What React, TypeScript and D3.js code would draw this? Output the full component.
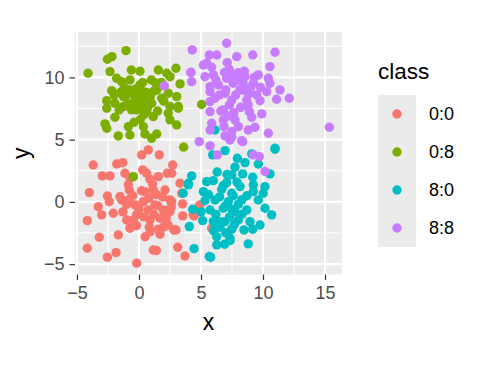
import React, { useRef, useEffect } from 'react';
import * as d3 from 'd3';

// points, one list per class
const class00: [number, number][] = [
  [0.22, 3.78], [0.75, 4.18], [1.64, 3.78], [-3.69, 2.97], [-1.8, 3.05], [-1.31, 3.16],
  [-2.96, 2.09], [-2.34, 2.09], [-1.13, 2.3], [-0.73, 1.9], [0.62, 2.3], [0.89, 1.82],
  [1.56, 2.03], [2.28, 2.3], [-4.0, 0.75], [-2.55, 0.48], [-1.53, 0.43], [-0.78, 0.96],
  [0.48, 0.83], [1.15, 0.96], [2.1, 0.96], [3.31, 1.5], [-2.4, 0.02], [-3.28, -0.38],
  [-1.4, 0.16], [-0.32, -0.24], [0.35, 0.02], [1.29, -0.24], [2.5, 0.16], [-3.01, -1.04],
  [-2.07, -0.91], [-0.99, -1.45], [-0.19, -1.04], [0.75, -0.64], [1.96, -0.64], [2.5, -0.78],
  [-4.17, -1.5], [-0.46, -1.45], [0.89, -1.45], [1.69, -1.31], [0.83, -2.03], [1.56, -2.19],
  [2.36, -1.85], [-0.73, -2.11], [2.98, -2.25], [-3.2, -2.84], [-1.67, -2.65], [-4.17, -3.72],
  [-2.55, -4.44], [-1.85, -4.07], [-0.19, -4.92], [1.15, -3.86], [1.4, -3.9], [3.12, -3.64],
  [3.71, -4.34], [4.38, -1.04], [4.92, -0.24], [0.3, 2.57], [-0.86, 1.37], [2.72, 2.97],
  [3.44, 0.7], [2.64, 0.02], [3.52, -0.16], [4.86, -0.32], [3.52, -1.12], [4.44, -1.12],
  [2.82, -2.25], [5.86, -2.11], [2.64, 2.3],
  [-0.5, 0.5], [0.0, -0.6], [0.8, 0.3], [1.5, -0.3], [1.9, 0.4], [-0.2, -1.9], [0.4, -1.2],
  [1.2, -1.0], [2.2, -1.3], [-1.0, -0.2], [0.2, 0.9], [0.9, -2.4], [1.7, -2.6], [2.6, -0.4],
  [-0.8, 0.2], [1.1, 1.4], [2.0, -2.0], [0.5, -2.8], [-1.3, -0.8], [1.4, 0.6],
];

const class08: [number, number][] = [
  [-4.11, 10.34], [-2.55, 11.46], [-2.18, 11.67], [-1.05, 12.15], [-2.34, 10.47], [-1.8, 9.93],
  [-0.62, 10.6], [0.08, 10.5], [-1.4, 9.66], [-0.73, 9.8], [-2.2, 8.94], [-2.6, 8.14],
  [-2.6, 7.53], [-1.94, 7.93], [-1.26, 8.46], [-0.73, 9.0], [-0.32, 8.46], [0.08, 9.4],
  [0.35, 8.86], [-0.73, 7.79], [-0.19, 7.39], [0.48, 8.06], [1.02, 7.93], [0.62, 7.25],
  [-1.26, 7.66], [-1.94, 6.8], [-2.74, 6.27], [-2.6, 5.92], [-1.67, 5.3], [-0.86, 6.05],
  [-0.73, 5.38], [0.35, 6.05], [0.48, 5.46], [1.02, 5.11], [1.43, 5.46], [1.15, 6.85],
  [1.56, 10.6], [2.23, 10.34], [2.98, 10.74], [2.5, 10.06], [1.37, 9.53], [3.31, 9.48],
  [1.43, 9.0], [2.36, 8.73], [1.83, 8.33], [2.5, 7.66], [3.17, 7.66], [2.36, 7.12],
  [2.5, 6.59], [3.04, 6.18], [3.6, 4.4], [5.05, 7.83], [-0.46, 2.03], [3.04, 8.46],
  [3.17, 7.53],
  [-1.0, 8.6], [-0.5, 8.9], [0.2, 8.2], [-0.2, 9.1], [0.6, 8.8], [-1.5, 8.8], [-0.9, 7.9],
  [0.0, 7.6], [0.9, 8.4], [-0.4, 8.0], [0.3, 9.6], [-1.2, 9.2], [0.7, 7.6], [1.2, 8.9],
  [-0.1, 8.6], [-0.6, 7.4], [0.4, 7.0], [1.0, 9.8], [-2.0, 8.6], [-1.6, 7.4], [0.1, 6.6],
  [-0.4, 6.4], [1.8, 9.6], [2.0, 8.1], [1.5, 7.3],
];

const class80: [number, number][] = [
  [10.97, 4.23], [6.94, 4.12], [5.94, 3.78], [9.09, 3.86], [7.93, 3.51], [8.55, 3.16],
  [9.62, 3.05], [7.74, 2.79], [10.56, 2.25], [4.25, 2.09], [7.48, 2.17], [8.36, 2.25],
  [9.17, 1.98], [5.99, 1.71], [7.07, 1.55], [3.98, 1.37], [8.15, 1.23], [9.22, 1.37],
  [10.16, 1.23], [3.57, 0.7], [5.19, 0.83], [6.67, 1.02], [7.48, 0.7], [9.22, 0.83],
  [10.02, 0.7], [5.32, 0.1], [6.13, 0.16], [7.2, 0.02], [8.28, 0.16], [9.62, 0.16],
  [10.16, -0.51], [10.7, -1.04], [4.33, -0.59], [5.73, -0.64], [6.8, -0.51], [7.74, -0.78],
  [8.69, -0.64], [5.13, -1.5], [5.99, -1.58], [6.94, -1.58], [8.01, -1.45], [8.95, -1.58],
  [9.76, -1.85], [4.06, -1.98], [6.53, -2.03], [7.48, -2.19], [8.47, -2.25], [9.17, -2.19],
  [6.27, -2.79], [7.34, -2.92], [6.27, -3.45], [7.34, -3.11], [8.81, -3.37], [4.44, -3.75],
  [5.78, -4.44], [3.98, 1.5], [5.46, 1.63], [5.67, -4.39], [6.13, 5.78], [10.97, 4.31],
  [6.5, 0.4], [7.0, -0.3], [7.6, 0.5], [6.2, -1.0], [7.3, -1.2], [8.0, -0.2], [6.8, 1.3],
  [7.9, 1.6], [6.0, -2.3], [7.0, -2.5], [8.3, -1.0], [6.6, -1.6], [7.7, -1.8], [5.6, 0.6],
  [8.7, 0.5], [6.3, 2.4], [7.1, 2.2], [5.0, -0.8], [6.9, -3.4], [7.5, -0.6],
];

const class88: [number, number][] = [
  [4.3, 12.21], [7.07, 12.75], [5.67, 11.8], [6.27, 11.8], [7.88, 11.67], [9.17, 11.8],
  [10.97, 12.02], [5.19, 11.0], [5.86, 10.82], [7.12, 11.19], [7.28, 10.66], [10.56, 10.87],
  [4.19, 10.42], [4.25, 9.66], [5.32, 10.06], [8.01, 10.39], [9.62, 10.2], [7.07, 9.93],
  [8.55, 10.06], [10.43, 9.93], [5.73, 9.26], [6.4, 9.4], [7.6, 9.53], [9.22, 9.53],
  [10.56, 9.53], [5.73, 8.86], [6.94, 8.73], [8.15, 9.0], [8.95, 8.73], [10.3, 8.86],
  [11.37, 9.0], [12.12, 8.33], [11.1, 8.25], [6.13, 8.33], [7.48, 8.19], [8.69, 8.19],
  [9.76, 8.14], [5.73, 8.06], [5.73, 7.25], [6.8, 7.39], [7.66, 7.17], [8.9, 7.25],
  [9.9, 7.07], [9.09, 6.8], [6.8, 6.59], [7.74, 6.59], [5.86, 6.32], [6.85, 6.05],
  [8.01, 6.05], [9.35, 6.0], [5.73, 5.78], [7.48, 5.65], [8.81, 5.78], [10.43, 5.52],
  [6.94, 5.3], [8.28, 4.92], [7.48, 5.2], [4.86, 4.84], [5.73, 4.5], [15.35, 6.0],
  [6.32, 3.78], [7.34, 4.98], [8.36, 4.84], [9.22, 3.78], [9.7, 3.64], [10.16, 2.44],
  [2.04, 9.32], [4.17, 10.39], [5.46, 11.14],
  [7.0, 9.0], [7.8, 8.6], [8.4, 9.5], [6.5, 8.6], [7.3, 7.8], [8.2, 7.6], [9.0, 9.2],
  [6.2, 9.8], [7.6, 10.2], [8.6, 8.9], [9.5, 8.6], [6.6, 7.3], [7.2, 6.9], [8.5, 10.5],
  [9.8, 9.2], [6.0, 10.2], [7.9, 9.8], [8.8, 7.8], [9.3, 10.0], [6.9, 10.4],
];

const classNames = ['0:0', '0:8', '8:0', '8:8'];
const classColors = ['#F8766D', '#7CAE00', '#00BFC4', '#C77CFF'];
const xTicks = [-5, 0, 5, 10, 15];
const yTicks = [-5, 0, 5, 10];
const xMinor = [-2.5, 2.5, 7.5, 12.5];
const yMinor = [-2.5, 2.5, 7.5, 12.5];

const FONT = '"Liberation Sans", Arial, sans-serif';

function Chart() {
  const ref = useRef<HTMLDivElement>(null);

  useEffect(() => {
    const el = ref.current;
    if (!el) return;
    d3.select(el).selectAll('*').remove();

    const panel = { left: 75, right: 342, top: 32, bottom: 274.5 };
    const x = d3.scaleLinear().domain([-5.16, 16.37]).range([panel.left, panel.right]);
    const y = d3.scaleLinear().domain([-5.83, 13.65]).range([panel.bottom, panel.top]);

    const svg = d3.select(el)
      .append('svg')
      .attr('width', 480)
      .attr('height', 368)
      .style('position', 'absolute')
      .style('left', '0px')
      .style('top', '0px')
      .style('font-family', FONT);

    svg.append('rect').attr('width', 480).attr('height', 368).attr('fill', '#fff');

    svg.append('rect')
      .attr('x', panel.left).attr('y', panel.top)
      .attr('width', panel.right - panel.left)
      .attr('height', panel.bottom - panel.top)
      .attr('fill', '#EBEBEB');

    const grid = svg.append('g');
    grid.append('g').selectAll('line').data(xMinor).join('line')
      .attr('x1', d => x(d)).attr('x2', d => x(d))
      .attr('y1', panel.top).attr('y2', panel.bottom)
      .attr('stroke', '#fff').attr('stroke-width', 1.1);
    grid.append('g').selectAll('line').data(yMinor).join('line')
      .attr('y1', d => y(d)).attr('y2', d => y(d))
      .attr('x1', panel.left).attr('x2', panel.right)
      .attr('stroke', '#fff').attr('stroke-width', 1.1);
    grid.append('g').selectAll('line').data(xTicks).join('line')
      .attr('x1', d => x(d)).attr('x2', d => x(d))
      .attr('y1', panel.top).attr('y2', panel.bottom)
      .attr('stroke', '#fff').attr('stroke-width', 2.2);
    grid.append('g').selectAll('line').data(yTicks).join('line')
      .attr('y1', d => y(d)).attr('y2', d => y(d))
      .attr('x1', panel.left).attr('x2', panel.right)
      .attr('stroke', '#fff').attr('stroke-width', 2.2);

    // points, drawn class by class like ggplot does
    const all = [class00, class08, class80, class88];
    all.forEach((pts, i) => {
      svg.append('g')
        .selectAll('circle')
        .data(pts)
        .join('circle')
        .attr('cx', d => x(d[0]))
        .attr('cy', d => y(d[1]))
        .attr('r', 4.7)
        .attr('fill', classColors[i]);
    });

    // axes
    const xAxis = svg.append('g')
      .attr('transform', `translate(0,${panel.bottom})`)
      .call(d3.axisBottom(x).tickValues(xTicks).tickSize(5.5).tickPadding(6));
    const yAxis = svg.append('g')
      .attr('transform', `translate(${panel.left},0)`)
      .call(d3.axisLeft(y).tickValues(yTicks).tickSize(5.5).tickPadding(5));
    [xAxis, yAxis].forEach(a => {
      a.select('.domain').remove();
      a.selectAll('line').attr('stroke', '#333').attr('stroke-width', 1.2);
      a.selectAll('text')
        .attr('fill', '#4D4D4D')
        .style('font-size', '18px')
        .style('font-family', FONT);
    });

    svg.append('text')
      .attr('x', (panel.left + panel.right) / 2)
      .attr('y', 330)
      .attr('text-anchor', 'middle')
      .style('font-size', '23px')
      .text('x');
    svg.append('text')
      .attr('transform', `translate(29,${(panel.top + panel.bottom) / 2}) rotate(-90)`)
      .attr('text-anchor', 'middle')
      .style('font-size', '23px')
      .text('y');

    // legend
    const leg = svg.append('g');
    leg.append('text')
      .attr('x', 378).attr('y', 79)
      .style('font-size', '22.5px')
      .text('class');
    leg.append('rect')
      .attr('x', 378).attr('y', 95)
      .attr('width', 38).attr('height', 152)
      .attr('fill', '#EBEBEB');
    classNames.forEach((name, i) => {
      const cy = 95 + 19 + i * 38;
      leg.append('circle')
        .attr('cx', 397).attr('cy', cy).attr('r', 4.7)
        .attr('fill', classColors[i]);
      leg.append('text')
        .attr('x', 429).attr('y', cy)
        .attr('dy', '0.35em')
        .style('font-size', '18px')
        .text(name);
    });
  }, []);

  return <div ref={ref}></div>;
}

export default function App() {
  return <Chart />;
}
